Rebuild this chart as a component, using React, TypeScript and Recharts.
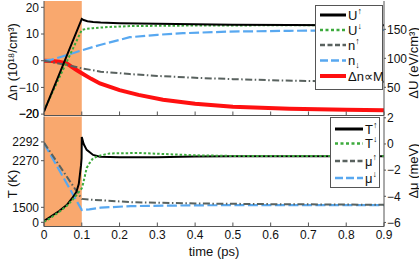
import React from 'react';
import { LineChart, Line, XAxis, YAxis, ReferenceArea, ReferenceLine, Legend } from 'recharts';

const timeTicks = [0, 0.1, 0.2, 0.3, 0.4, 0.5, 0.6, 0.7, 0.8, 0.9];
const dnTicks = [-20, -10, 0, 10, 20];
const duTicks = [50, 100, 150];
const tempTicks = [0, 1500, 2270, 2292];
const muTicks = [-6, -4, -2, 0, 2];

// panel (a): [time (ps), value]; U in eV/cm^3 (right axis), n in 10^18/cm^3 (left axis)
const uUp = [[0, 8], [0.1, 168], [0.105, 166], [0.115, 164], [0.13, 162.6], [0.15, 161.6], [0.2, 160.6], [0.3, 159.5], [0.4, 158.7], [0.5, 158], [0.65, 157.4], [0.8, 157.1], [0.9, 157]];
const uDown = [[0, 10], [0.05, 80], [0.1, 149], [0.11, 150.5], [0.13, 152], [0.17, 154], [0.23, 155.6], [0.35, 156.3], [0.5, 156.7], [0.7, 157], [0.9, 157.1]];
const nUp = [[0, 0], [0.03, -0.8], [0.06, -1.6], [0.1, -2.85], [0.15, -4.1], [0.227, -5.0], [0.3, -5.7], [0.4, -6.4], [0.5, -6.9], [0.6, -7.3], [0.7, -7.6], [0.8, -7.8], [0.9, -7.9]];
const nDown = [[0, 0], [0.02, 0.4], [0.042, 1.3], [0.07, 2.5], [0.1, 3.9], [0.148, 5.9], [0.227, 8.8], [0.3, 9.7], [0.368, 10.3], [0.49, 10.9], [0.65, 11.2], [0.9, 11.5]];
const dnM = [[0, 0], [0.02, -0.1], [0.04, -0.4], [0.06, -1.0], [0.085, -3.4], [0.1, -4.7], [0.125, -6.8], [0.148, -8.5], [0.2, -11.0], [0.25, -12.8], [0.315, -14.6], [0.4, -16.1], [0.5, -17.2], [0.65, -18.0], [0.8, -18.4], [0.9, -18.6]];

// panel (b): T in K (left axis), mu in meV (right axis)
const tUp = [[0, 204], [0.016, 720], [0.04, 1260], [0.06, 1620], [0.075, 1885], [0.086, 2034], [0.092, 2145], [0.095, 2218], [0.098, 2259], [0.0995, 2275], [0.1, 2294.3], [0.105, 2290.7], [0.113, 2286], [0.13, 2280], [0.148, 2277.4], [0.2, 2276.4], [0.3, 2276.6], [0.4, 2277.6], [0.5, 2278], [0.9, 2278]];
const tDown = [[0, 51], [0.016, 566], [0.04, 1189], [0.06, 1571], [0.075, 1822], [0.086, 1964], [0.1, 2090], [0.104, 2156], [0.113, 2250], [0.121, 2265], [0.13, 2275], [0.148, 2279], [0.174, 2282], [0.25, 2282.6], [0.4, 2279.5], [0.5, 2278.5], [0.9, 2278.3]];
const muUp = [[0, 0.1], [0.1, -4.2], [0.12, -4.25], [0.15, -4.3], [0.23, -4.45], [0.4, -4.55], [0.6, -4.6], [0.9, -4.65]];
const muDown = [[0, 0.05], [0.1, -5.05], [0.12, -5.0], [0.15, -4.87], [0.23, -4.75], [0.4, -4.69], [0.6, -4.67], [0.9, -4.67]];

const rows = (pts: number[][]) => pts.map(([t, v]) => ({ t, v }));
// the T axis is stretched towards ~2300 K, like in the original figure
const tPos = (k: number) => -Math.log(2300 - k);
const fmtTime = (v: number) => (v === 0 ? '0' : v.toFixed(1));
const fmtNum = (v: number) => String(v).replace('-', '\u2212');

const black = '#000';
const green = '#3CAA3C';
const gray = '#59625F';
const blue = '#58A8F0';
const red = '#FF1010';
const orange = '#F9A86E';
const frame = { stroke: '#555' };
const tickFont = { fontSize: 12, fill: '#111' };

const Title = ({ x, y, rot, children }: any) => (
  <text x={x} y={y} transform={rot ? `rotate(-90 ${x} ${y})` : undefined} textAnchor="middle"
    dominantBaseline="central" fontSize={13} fill="#111">{children}</text>
);

const sup = (a: string) => <tspan dy={-6} fontSize={9}>{a}</tspan>;
const sub = (a: string) => <tspan dy={3} fontSize={9}>{a}</tspan>;

function LegendBox({ w, h, x1, x2, items }: any) {
  return (
    <svg width={w} height={h} style={{ display: 'block' }}>
      <rect x={0.5} y={0.5} width={w - 1} height={h - 1} fill="#fff" stroke="#555" />
      {items.map((it: any, i: number) => (
        <g key={i}>
          <line x1={x1} x2={x2} y1={it.y} y2={it.y} stroke={it.color} strokeWidth={it.width} strokeDasharray={it.dash} />
          <text x={x2 + 2} y={it.y + 4.5} fontSize={13} fill="#111">{it.label}</text>
        </g>
      ))}
    </svg>
  );
}

export default function App() {
  return (
    <div style={{ position: 'absolute', left: 0, top: 0, width: 419, height: 260, fontFamily: '"Liberation Sans", Arial, sans-serif' }}>
      <style>{'.recharts-surface { overflow: visible; }'}</style>
      <div style={{ position: 'absolute', left: 0, top: 110 }}>
        <LineChart width={419} height={150} margin={{ top: 6.5, right: 0, bottom: 0, left: 0 }}>
          <XAxis dataKey="t" type="number" domain={[0, 0.9]} ticks={timeTicks} interval={0} allowDataOverflow
            height={33.5} tickSize={-4} tickMargin={8} tick={tickFont} tickFormatter={fmtTime} axisLine={frame} tickLine={frame}
            label={{ content: () => <Title x={214} y={141}>time (ps)</Title> }} />
          <XAxis xAxisId="top" orientation="top" type="number" domain={[0, 0.9]} ticks={timeTicks} interval={0}
            height={0} tickSize={-4} tickFormatter={() => ''} axisLine={frame} tickLine={frame}
            label={{ content: () => <Title x={9} y={15}>(b)</Title> }} />
          <YAxis yAxisId="T" width={44} type="number" domain={[-8.035, -0.289]} ticks={tempTicks.map(tPos)} interval={0} allowDataOverflow
            tickSize={3} tickMargin={2} tick={tickFont} tickFormatter={(v: number) => String(Math.round(2300 - Math.exp(-v)))}
            axisLine={frame} tickLine={frame}
            label={{ content: () => <Title x={12} y={74} rot>T (K)</Title> }} />
          <YAxis yAxisId="M" orientation="right" width={35} type="number" domain={[-6.31, 2.1]} ticks={muTicks} interval={0} allowDataOverflow
            tickSize={2} tickMargin={1} tick={tickFont} tickFormatter={fmtNum} axisLine={frame} tickLine={frame}
            label={{ content: () => <Title x={413} y={61} rot>Δμ (meV)</Title> }} />
          <ReferenceArea yAxisId="T" x1={0} x2={0.1} fill={orange} fillOpacity={1} stroke="none" />
          <Line yAxisId="M" data={rows(muDown)} dataKey="v" stroke={blue} strokeWidth={2.2} strokeDasharray="10 3.5" dot={false} activeDot={false} isAnimationActive={false} />
          <Line yAxisId="M" data={rows(muUp)} dataKey="v" stroke={gray} strokeWidth={2} strokeDasharray="7 2.5 1.5 2.5" dot={false} activeDot={false} isAnimationActive={false} />
          <Line yAxisId="T" data={rows(tUp)} dataKey={(d: any) => tPos(d.v)} stroke={black} strokeWidth={2} dot={false} activeDot={false} isAnimationActive={false} />
          <Line yAxisId="T" data={rows(tDown)} dataKey={(d: any) => tPos(d.v)} stroke={green} strokeWidth={2} strokeDasharray="2.5 2" dot={false} activeDot={false} isAnimationActive={false} />
          <Legend layout="vertical" align="center" verticalAlign="middle" wrapperStyle={{ left: 330, top: 7, width: 50 }}
            content={() => (
              <LegendBox w={50} h={71} x1={5} x2={33} items={[
                { y: 12, color: black, width: 3, label: <>T{sup('↑')}</> },
                { y: 26.5, color: green, width: 2.5, dash: '3 2.5', label: <>T{sup('↓')}</> },
                { y: 44, color: gray, width: 2.5, dash: '5 2.5', label: <>μ{sup('↑')}</> },
                { y: 61, color: blue, width: 2.5, dash: '8 3', label: <>μ{sup('↓')}</> },
              ]} />
            )} />
        </LineChart>
      </div>
      <div style={{ position: 'absolute', left: 0, top: 0, zIndex: 1 }}>
        <LineChart width={419} height={116} margin={{ top: 1, right: 0, bottom: 0, left: 0 }}>
          <XAxis dataKey="t" type="number" domain={[0, 0.9]} ticks={timeTicks} interval={0} allowDataOverflow
            height={0.5} tickSize={-4} tickFormatter={() => ''} axisLine={frame} tickLine={frame} />
          <XAxis xAxisId="top" orientation="top" type="number" domain={[0, 0.9]} ticks={timeTicks} interval={0}
            height={0} tickSize={-4} tickFormatter={() => ''} axisLine={frame} tickLine={frame}
            label={{ content: () => <Title x={9} y={13}>(a)</Title> }} />
          <YAxis yAxisId="L" width={44} type="number" domain={[-20.52, 22.36]} ticks={dnTicks} interval={0} allowDataOverflow
            tickSize={3} tickMargin={2} tick={tickFont} tickFormatter={fmtNum} axisLine={frame} tickLine={frame}
            label={{ content: () => <Title x={12} y={62} rot>Δn (10¹⁸/cm³)</Title> }} />
          <YAxis yAxisId="R" orientation="right" width={35} type="number" domain={[1.4, 198.8]} ticks={duTicks} interval={0} allowDataOverflow
            tickSize={2} tickMargin={1} tick={tickFont} axisLine={frame} tickLine={frame}
            label={{ content: () => <Title x={413} y={63} rot>ΔU (eV/cm³)</Title> }} />
          <ReferenceArea yAxisId="L" x1={0} x2={0.1} fill={orange} fillOpacity={1} stroke="none" />
          {/* the lowest density tick label gets dropped next to the panel edge, so it is added here on the same scale */}
          <ReferenceLine yAxisId="L" y={dnTicks[0]} stroke="none"
            label={{ value: fmtNum(dnTicks[0]), position: 'left', offset: 5, fontSize: 12, fill: '#111' }} />
          <Line yAxisId="L" data={rows(dnM)} dataKey="v" stroke={red} strokeWidth={4} dot={false} activeDot={false} isAnimationActive={false} />
          <Line yAxisId="L" data={rows(nDown)} dataKey="v" stroke={blue} strokeWidth={2.2} strokeDasharray="10 3.5" dot={false} activeDot={false} isAnimationActive={false} />
          <Line yAxisId="L" data={rows(nUp)} dataKey="v" stroke={gray} strokeWidth={2} strokeDasharray="7 2.5 1.5 2.5" dot={false} activeDot={false} isAnimationActive={false} />
          <Line yAxisId="R" data={rows(uDown)} dataKey="v" stroke={green} strokeWidth={2} strokeDasharray="2.5 2" dot={false} activeDot={false} isAnimationActive={false} />
          <Line yAxisId="R" data={rows(uUp)} dataKey="v" stroke={black} strokeWidth={2} dot={false} activeDot={false} isAnimationActive={false} />
          <Legend layout="vertical" align="center" verticalAlign="middle" wrapperStyle={{ left: 315, top: 5, width: 68 }}
            content={() => (
              <LegendBox w={68} h={85} x1={5} x2={31} items={[
                { y: 10, color: black, width: 3, label: <>U{sup('↑')}</> },
                { y: 25, color: green, width: 2.5, dash: '3 2.5', label: <>U{sup('↓')}</> },
                { y: 40, color: gray, width: 2.5, dash: '5 2.5', label: <>n{sup('↑')}</> },
                { y: 55.5, color: blue, width: 2.5, dash: '8 3', label: <>n{sub('↓')}</> },
                { y: 71, color: red, width: 4, label: 'Δn∝M' },
              ]} />
            )} />
        </LineChart>
      </div>
    </div>
  );
}
